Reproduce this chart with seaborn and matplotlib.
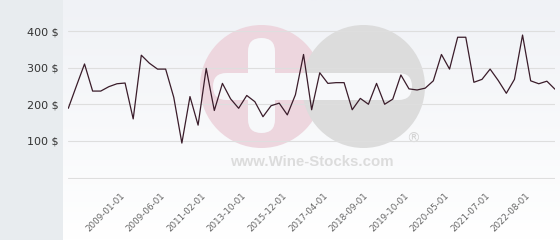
import numpy as np
import pandas as pd
import matplotlib
matplotlib.use("Agg")
import matplotlib.pyplot as plt
import seaborn as sns
from matplotlib.patches import Circle, FancyBboxPatch
from matplotlib.colors import LinearSegmentedColormap
from matplotlib.transforms import ScaledTranslation

# ---- data ----
prices = [189, 250, 310, 236, 236, 248, 256, 258, 160, 334,
          312, 296, 296, 219, 94, 221, 143, 298, 183, 257,
          215, 189, 224, 207, 166, 196, 203, 171, 226, 336,
          185, 286, 257, 259, 259, 185, 216, 200, 257, 200,
          214, 280, 242, 239, 244, 264, 336, 296, 383, 383,
          260, 268, 296, 265, 230, 268, 389, 264, 256, 263,
          241]
tick_labels = ["2009-01-01", "2009-06-01", "2011-02-01", "2013-10-01",
               "2015-12-01", "2017-04-01", "2018-09-01", "2019-10-01",
               "2020-05-01", "2021-07-01", "2022-08-01"]
y_ticks = [0, 100, 200, 300, 400]
y_labels = ["", "100 $", "200 $", "300 $", "400 $"]

df = pd.DataFrame({"idx": np.arange(len(prices)), "price": prices})
tick_pos = list(range(7, 7 + 5 * len(tick_labels), 5))

sns.set_theme(style="white")
plt.rcParams["font.family"] = ["DejaVu Sans"]

W, H = 560, 240
fig = plt.figure(figsize=(W / 100, H / 100), dpi=100)
fig.patch.set_facecolor("#e8ecef")

# background gradient for plot region
bg = fig.add_axes([63 / W, 0, 1 - 63 / W, 1], zorder=0)
cmap = LinearSegmentedColormap.from_list("g", ["#f0f2f6", "#ffffff"])
bg.imshow(np.linspace(0, 1, 100).reshape(-1, 1), aspect="auto", cmap=cmap,
          extent=[0, 1, 0, 1], origin="upper")
bg.set_axis_off()

# watermark layer in pixel coordinates
wm = fig.add_axes([0, 0, 1, 1], zorder=1)
wm.set_xlim(0, W)
wm.set_ylim(H, 0)
wm.set_axis_off()
wm.patch.set_alpha(0)
wm.add_patch(Circle((261.5, 86.5), 61.5, color="#edd6de", lw=0))
wm.add_patch(Circle((363.5, 86.5), 61.5, color="#dcdcdc", lw=0))
wm.add_patch(FancyBboxPatch((248, 38), 27, 95,
                            boxstyle="round,pad=0,rounding_size=13.5",
                            color="#f7f8fa", lw=0))
wm.add_patch(FancyBboxPatch((213, 73), 199, 27,
                            boxstyle="round,pad=0,rounding_size=13.5",
                            color="#f7f8fa", lw=0))
wm.text(312, 162, "www.Wine-Stocks.com", ha="center", va="center",
        fontsize=10.8, fontweight="bold", color="#dcdcdc",
        family="Liberation Sans")
wm.text(413, 139, "®", ha="center", va="center", fontsize=10,
        color="#d4d4d4")

# main chart (value 0 sits at pixel row 177.5)
y_top, y_bot = 484.7, -4.0
px_per_unit = 177.5 / y_top
ax_h = (y_top - y_bot) * px_per_unit
ax = fig.add_axes([68.3 / W, (H - ax_h) / H, (555 - 68.3) / W, ax_h / H],
                  zorder=2)
ax.patch.set_alpha(0)
sns.lineplot(data=df, x="idx", y="price", ax=ax, color="#3a1c2a",
             linewidth=0.9)
ax.set_xlim(0, len(prices) - 1)
ax.set_ylim(y_bot, y_top)
ax.set_yticks(y_ticks)
ax.set_yticklabels(y_labels, fontsize=8, color="#333333")
ax.set_xticks(tick_pos)
ax.set_xticklabels(tick_labels, fontsize=6.3, color="#666666",
                   rotation=45, ha="right", rotation_mode="anchor")
ax.tick_params(axis="y", length=0, pad=6.7)
ax.tick_params(axis="x", length=0, pad=9)
shift = ScaledTranslation(-5 / 100, 0, fig.dpi_scale_trans)
for lbl in ax.get_xticklabels():
    lbl.set_transform(lbl.get_transform() + shift)
ax.grid(axis="y", color="#dedede", linewidth=0.8)
ax.grid(axis="x", visible=False)
ax.set_axisbelow(True)
ax.set_xlabel("")
ax.set_ylabel("")
for s in ax.spines.values():
    s.set_visible(False)

fig.savefig("out.png", dpi=100)
